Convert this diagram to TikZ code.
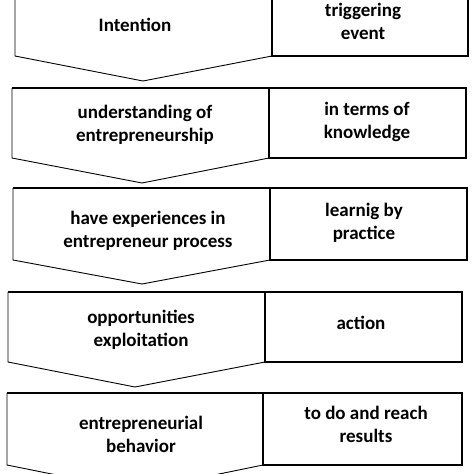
\documentclass[tikz,border=0pt]{standalone}
\usepackage{fontspec}
\setmainfont{Carlito}
\begin{document}
\begin{tikzpicture}[x=1pt,y=-1pt,
  lbl/.style={font=\bfseries\fontsize{19}{23}\selectfont, align=center, inner sep=0pt, text=black},
  outl/.style={draw=black, line width=0.9pt, line join=miter},
  rbox/.style={draw=black, line width=1.3pt}]
\useasboundingbox (0,0) rectangle (474,474);
\fill[white] (0,0) rectangle (474,474);
% Row 1
\draw[outl] (15,-5) -- (15,56) -- (143,81) -- (272,56) -- (272,-5);
\draw[rbox] (272,-5) rectangle (468,56);
% Row 2
\draw[outl] (12,88) -- (12,158) -- (142,183) -- (269,158);
\draw[rbox] (12,88) -- (466,88);
\draw[rbox] (269,88) rectangle (466,158);
% Row 3
\draw[outl] (13,188) -- (13,260) -- (142,284) -- (270,260);
\draw[rbox] (13,188) -- (467,188);
\draw[rbox] (270,188) rectangle (467,260);
% Row 4
\draw[outl] (8,292) -- (8,362) -- (135,387) -- (265,362);
\draw[rbox] (8,292) -- (462,292);
\draw[rbox] (265,292) rectangle (462,362);
% Row 5
\draw[outl] (7,393) -- (7,465) -- (136,491) -- (263,465);
\draw[rbox] (7,393) -- (462,393);
\draw[rbox] (263,393) rectangle (462,465);
% Texts
\node[lbl] (l1) at (135,25) {Intention};
\node[lbl] (r1) at (363,21.5) {triggering\\event};
\node[lbl] (l2) at (145,124.5) {understanding of\\entrepreneurship};
\node[lbl] (r2) at (367,121.5) {in terms of\\knowledge};
\node[lbl] (l3) at (148,230.5) {have experiences in\\entrepreneur process};
\node[lbl] (r3) at (364,222.5) {learnig by\\practice};
\node[lbl] (l4) at (141,329.5) {opportunities\\exploitation};
\node[lbl] (r4) at (361,323) {action};
\node[lbl] (l5) at (141,434.5) {entrepreneurial\\behavior};
\node[lbl] (r5) at (366,424.5) {to do and reach\\results};
\end{tikzpicture}
\end{document}
